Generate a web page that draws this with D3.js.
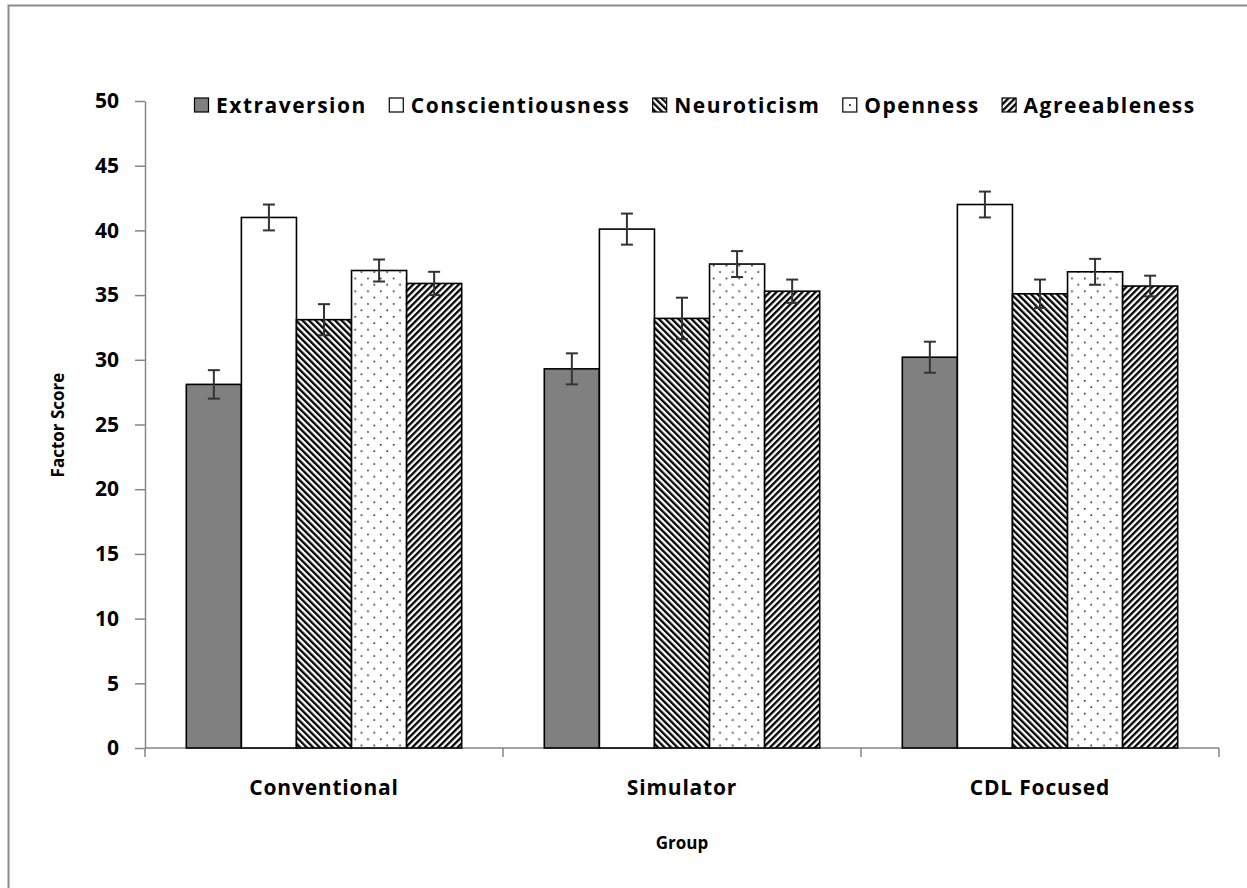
<!DOCTYPE html>
<html>
<head>
<meta charset="utf-8">
<script src="https://cdn.jsdelivr.net/npm/d3@7"></script>
<style>
  html, body { margin: 0; padding: 0; background: #fff; }
  svg { display: block; }
  text { font-family: "Open Sans", "Noto Sans", sans-serif; font-weight: bold; fill: #000; }
</style>
</head>
<body>
<svg id="chart" width="1247" height="888"></svg>
<script>
// Groups on the x axis and the five personality factors
const groups = ["Conventional", "Simulator", "CDL Focused"];
const factors = ["Extraversion", "Conscientiousness", "Neuroticism", "Openness", "Agreeableness"];

// Mean factor scores per group (Conventional, Simulator, CDL Focused)
const extraversion      = [28.1, 29.3, 30.2];
const conscientiousness = [41.0, 40.1, 42.0];
const neuroticism       = [33.1, 33.2, 35.1];
const openness          = [36.9, 37.4, 36.8];
const agreeableness     = [35.9, 35.3, 35.7];

// Error bar half-lengths per group
const extraversionErr      = [1.1, 1.2, 1.2];
const conscientiousnessErr = [1.0, 1.2, 1.0];
const neuroticismErr       = [1.2, 1.6, 1.1];
const opennessErr          = [0.85, 1.0, 1.0];
const agreeablenessErr     = [0.9, 0.9, 0.8];

const yTicks = [0, 5, 10, 15, 20, 25, 30, 35, 40, 45, 50];

const seriesValues = [extraversion, conscientiousness, neuroticism, openness, agreeableness];
const seriesErrors = [extraversionErr, conscientiousnessErr, neuroticismErr, opennessErr, agreeablenessErr];

const rows = [];
groups.forEach((g, gi) => {
  factors.forEach((f, fi) => {
    rows.push({ group: g, factor: f, value: seriesValues[fi][gi], err: seriesErrors[fi][gi] });
  });
});

const svg = d3.select("#chart");

// Fill patterns
const defs = svg.append("defs");
const fills = {
  "Extraversion": "#808080",
  "Conscientiousness": "#ffffff",
  "Neuroticism": "url(#patDown)",
  "Openness": "url(#patDots)",
  "Agreeableness": "url(#patUp)"
};

function stripePattern(id, angle) {
  const p = defs.append("pattern")
    .attr("id", id)
    .attr("patternUnits", "userSpaceOnUse")
    .attr("width", 4.6).attr("height", 10)
    .attr("patternTransform", `rotate(${angle})`);
  p.append("rect").attr("width", 4.6).attr("height", 10).attr("fill", "#fff");
  p.append("rect").attr("width", 2.3).attr("height", 10).attr("fill", "#000");
}
stripePattern("patDown", -45);
stripePattern("patUp", 45);

const dots = defs.append("pattern")
  .attr("id", "patDots")
  .attr("patternUnits", "userSpaceOnUse")
  .attr("width", 12.8).attr("height", 12.8);
dots.append("rect").attr("width", 12.8).attr("height", 12.8).attr("fill", "#fff");
dots.append("rect").attr("x", 2.4).attr("y", 2.4).attr("width", 1.6).attr("height", 1.6).attr("fill", "#222");
dots.append("rect").attr("x", 8.8).attr("y", 8.8).attr("width", 1.6).attr("height", 1.6).attr("fill", "#222");

// Outer chart frame
svg.append("rect")
  .attr("x", 8.5).attr("y", 5.5)
  .attr("width", 1300).attr("height", 1000)
  .attr("fill", "none").attr("stroke", "#8c8c8c").attr("stroke-width", 2);

// Scales
const plot = { left: 145, right: 1219, top: 101, bottom: 748 };
const x = d3.scaleBand().domain(groups).range([plot.left, plot.right]).padding(0);
const bw = x.bandwidth();
const barW = bw / 6.5;               // 150% gap between clusters
const xInner = d3.scaleBand().domain(factors)
  .range([barW * 0.75, bw - barW * 0.75]).padding(0);
const y = d3.scaleLinear().domain([0, 50]).range([plot.bottom, plot.top]);

// Y axis
const yAxis = svg.append("g")
  .attr("transform", `translate(${plot.left},0)`)
  .call(d3.axisLeft(y).tickValues(yTicks).tickSize(10).tickPadding(16).tickSizeOuter(0));
yAxis.select(".domain").attr("stroke", "#868686").attr("stroke-width", 1.5);
yAxis.selectAll(".tick line").attr("stroke", "#868686").attr("stroke-width", 1.5);
yAxis.selectAll(".tick text").style("font-size", "21px").attr("fill", "#000");

// X axis: baseline with ticks at cluster boundaries
const xg = svg.append("g");
xg.append("line")
  .attr("x1", plot.left).attr("x2", plot.right)
  .attr("y1", plot.bottom).attr("y2", plot.bottom)
  .attr("stroke", "#868686").attr("stroke-width", 1.5);
const bounds = groups.map(g => x(g)).concat([x(groups[groups.length - 1]) + bw]);
xg.selectAll("line.tk").data(bounds).join("line")
  .attr("class", "tk")
  .attr("x1", d => d).attr("x2", d => d)
  .attr("y1", plot.bottom).attr("y2", plot.bottom + 9)
  .attr("stroke", "#868686").attr("stroke-width", 1.5);
xg.selectAll("text.cat").data(groups).join("text")
  .attr("class", "cat")
  .attr("x", d => x(d) + bw / 2)
  .attr("y", 795)
  .attr("text-anchor", "middle")
  .style("font-size", "21px")
  .style("letter-spacing", "0.8px")
  .text(d => d);

// Bars
svg.append("g").selectAll("rect").data(rows).join("rect")
  .attr("x", d => x(d.group) + xInner(d.factor))
  .attr("y", d => y(d.value))
  .attr("width", xInner.bandwidth())
  .attr("height", d => y(0) - y(d.value))
  .attr("fill", d => fills[d.factor])
  .attr("stroke", "#000")
  .attr("stroke-width", 1.6);

// Error bars
const eb = svg.append("g").attr("stroke", "#333").attr("stroke-width", 2);
rows.forEach(d => {
  const cx = x(d.group) + xInner(d.factor) + xInner.bandwidth() / 2;
  const y1 = y(d.value + d.err), y2 = y(d.value - d.err);
  eb.append("line").attr("x1", cx).attr("x2", cx).attr("y1", y1).attr("y2", y2);
  eb.append("line").attr("x1", cx - 6).attr("x2", cx + 6).attr("y1", y1).attr("y2", y1);
  eb.append("line").attr("x1", cx - 6).attr("x2", cx + 6).attr("y1", y2).attr("y2", y2);
});

// Axis titles
svg.append("text")
  .attr("transform", "translate(64,425) rotate(-90)")
  .attr("text-anchor", "middle")
  .style("font-size", "17px")
  .text("Factor Score");
svg.append("text")
  .attr("x", 682).attr("y", 849)
  .attr("text-anchor", "middle")
  .style("font-size", "17px")
  .text("Group");

// Legend: key boxes laid out left to right, each followed by its label
const legend = svg.append("g").attr("transform", "translate(194,97)");
let cursor = 0;
factors.forEach(f => {
  const g = legend.append("g").attr("transform", `translate(${cursor},0)`);
  g.append("rect")
    .attr("x", 0.5).attr("y", 1)
    .attr("width", 14).attr("height", 14)
    .attr("fill", f === "Openness" ? "#fff" : fills[f])
    .attr("stroke", "#000").attr("stroke-width", 1.2);
  if (f === "Openness") {
    g.append("rect").attr("x", 6.7).attr("y", 7.2).attr("width", 1.8).attr("height", 1.8).attr("fill", "#222");
  }
  const t = g.append("text")
    .attr("x", 22).attr("y", 15.5)
    .style("font-size", "21px")
    .style("letter-spacing", "1.5px")
    .text(f);
  cursor += 22 + t.node().getComputedTextLength() + 22;
});
</script>
</body>
</html>
